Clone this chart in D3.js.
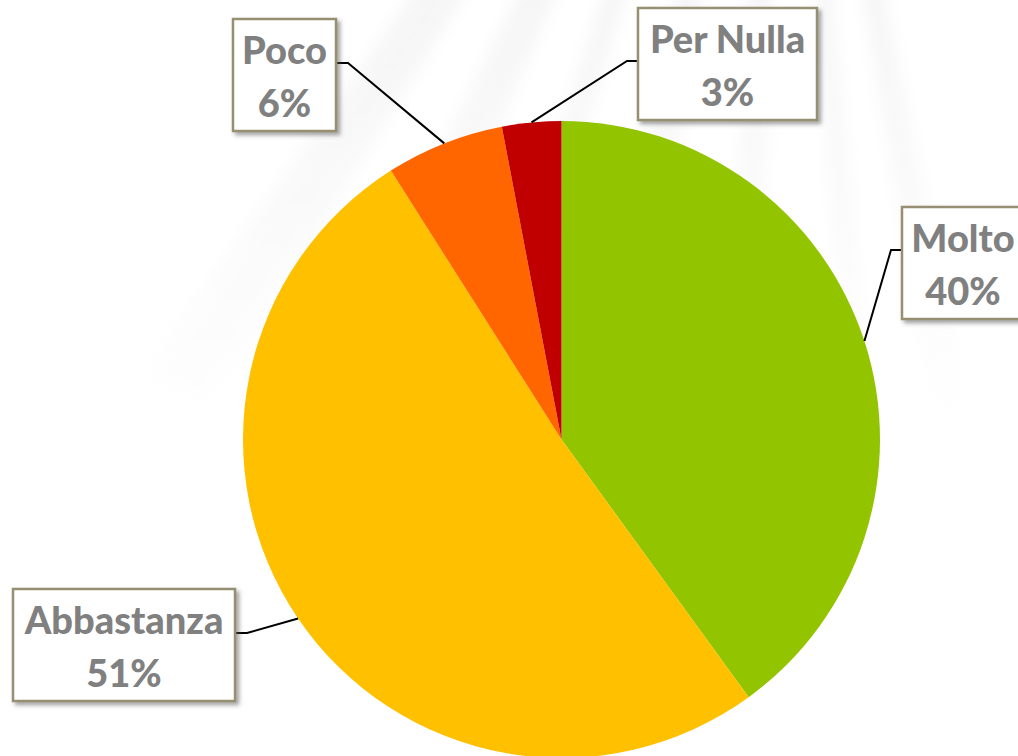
<!DOCTYPE html>
<html>
<head>
<meta charset="utf-8">
<script src="https://cdn.jsdelivr.net/npm/d3@7"></script>
<style>
    html, body { margin: 0; padding: 0; background: #ffffff; }
    .chart { width: 1018px; height: 756px; overflow: hidden; }
    text { font-family: Lato, "Open Sans", sans-serif; font-weight: 900; }
</style>
</head>
<body>
<div class="chart"></div>
<script>

const categories = ["Molto", "Abbastanza", "Poco", "Per Nulla"];
const values = [40, 51, 6, 3];
const colors = ["#92c400", "#ffc000", "#ff6600", "#c00000"];

// label boxes, placed by hand like the original
const labelLayout = [
    { x: 902, y: 207, w: 122, side: "left",  lineY: 43 },
    { x: 13,  y: 589, w: 222, side: "right", lineY: 44 },
    { x: 233, y: 19,  w: 103, side: "right", lineY: 44 },
    { x: 638, y: 8,   w: 179, side: "left",  lineY: 53 }
];

const width = 1018;
const height = 756;
const cx = 561.5;
const cy = 439.5;
const radius = 318.5;
const boxH = 112;

const svg = d3.select(".chart")
    .append("svg")
    .attr("width", width)
    .attr("height", height);

const defs = svg.append("defs");

const grad = defs.append("linearGradient")
    .attr("id", "rayFade")
    .attr("gradientUnits", "userSpaceOnUse")
    .attr("x1", 0).attr("y1", 0)
    .attr("x2", 0).attr("y2", 430);
grad.append("stop").attr("offset", "0%").attr("stop-color", "#e4e4e4");
grad.append("stop").attr("offset", "100%").attr("stop-color", "#ffffff");

const blur = defs.append("filter")
    .attr("id", "rayBlur")
    .attr("x", "-20%").attr("y", "-20%")
    .attr("width", "140%").attr("height", "140%");
blur.append("feGaussianBlur").attr("stdDeviation", 8);

const shadow = defs.append("filter")
    .attr("id", "boxShadow")
    .attr("x", "-20%").attr("y", "-20%")
    .attr("width", "150%").attr("height", "150%");
shadow.append("feDropShadow")
    .attr("dx", 3).attr("dy", 3)
    .attr("stdDeviation", 2)
    .attr("flood-color", "#555")
    .attr("flood-opacity", 0.55);

// faint background rays
const rayOrigin = [780, -520];
const rayAngles = [[-0.62, -0.55], [-0.47, -0.41], [-0.33, -0.29], [-0.2, -0.15], [-0.06, -0.02], [0.07, 0.1], [0.16, 0.2]];
const bg = svg.append("g")
    .attr("filter", "url(#rayBlur)")
    .attr("opacity", 0.35);
rayAngles.forEach(a => {
    const len = 1100;
    const p1 = [rayOrigin[0] + len * Math.sin(a[0]), rayOrigin[1] + len * Math.cos(a[0])];
    const p2 = [rayOrigin[0] + len * Math.sin(a[1]), rayOrigin[1] + len * Math.cos(a[1])];
    bg.append("path")
        .attr("d", d3.line()([rayOrigin, p1, p2]) + "Z")
        .attr("fill", "url(#rayFade)");
});

const total = d3.sum(values);
const pct = d3.format(".0%");

const pie = d3.pie()
    .sort(null)
    .value(d => d);

const arcs = pie(values);

const arc = d3.arc()
    .innerRadius(0)
    .outerRadius(radius);

const g = svg.append("g")
    .attr("transform", "translate(" + cx + "," + cy + ")");

g.selectAll("path.slice")
    .data(arcs)
    .enter()
    .append("path")
    .attr("class", "slice")
    .attr("d", arc)
    .attr("fill", (d, i) => colors[i]);

// leader lines
arcs.forEach((d, i) => {
    const L = labelLayout[i];
    const mid = (d.startAngle + d.endAngle) / 2;
    const ex = cx + radius * Math.sin(mid);
    const ey = cy - radius * Math.cos(mid);
    const bx = L.side === "left" ? L.x : L.x + L.w;
    const by = L.y + L.lineY;
    const kx = L.side === "left" ? bx - 11 : bx + 12;

    svg.append("path")
        .attr("d", d3.line()([[bx, by], [kx, by], [ex, ey]]))
        .attr("fill", "none")
        .attr("stroke", "#000")
        .attr("stroke-width", 2);
});

// label boxes
const labels = svg.selectAll("g.label")
    .data(arcs)
    .enter()
    .append("g")
    .attr("class", "label");

labels.append("rect")
    .attr("x", (d, i) => labelLayout[i].x)
    .attr("y", (d, i) => labelLayout[i].y)
    .attr("width", (d, i) => labelLayout[i].w)
    .attr("height", boxH)
    .attr("fill", "#ffffff")
    .attr("stroke", "#978f72")
    .attr("stroke-width", 2.5)
    .attr("filter", "url(#boxShadow)");

labels.append("text")
    .attr("x", (d, i) => labelLayout[i].x + labelLayout[i].w / 2)
    .attr("y", (d, i) => labelLayout[i].y + 45)
    .attr("text-anchor", "middle")
    .attr("fill", "#808080")
    .attr("font-size", 38)
    .text((d, i) => categories[i]);

labels.append("text")
    .attr("x", (d, i) => labelLayout[i].x + labelLayout[i].w / 2)
    .attr("y", (d, i) => labelLayout[i].y + 98)
    .attr("text-anchor", "middle")
    .attr("fill", "#808080")
    .attr("font-size", 38)
    .text(d => pct(d.value / total));

</script>
</body>
</html>
